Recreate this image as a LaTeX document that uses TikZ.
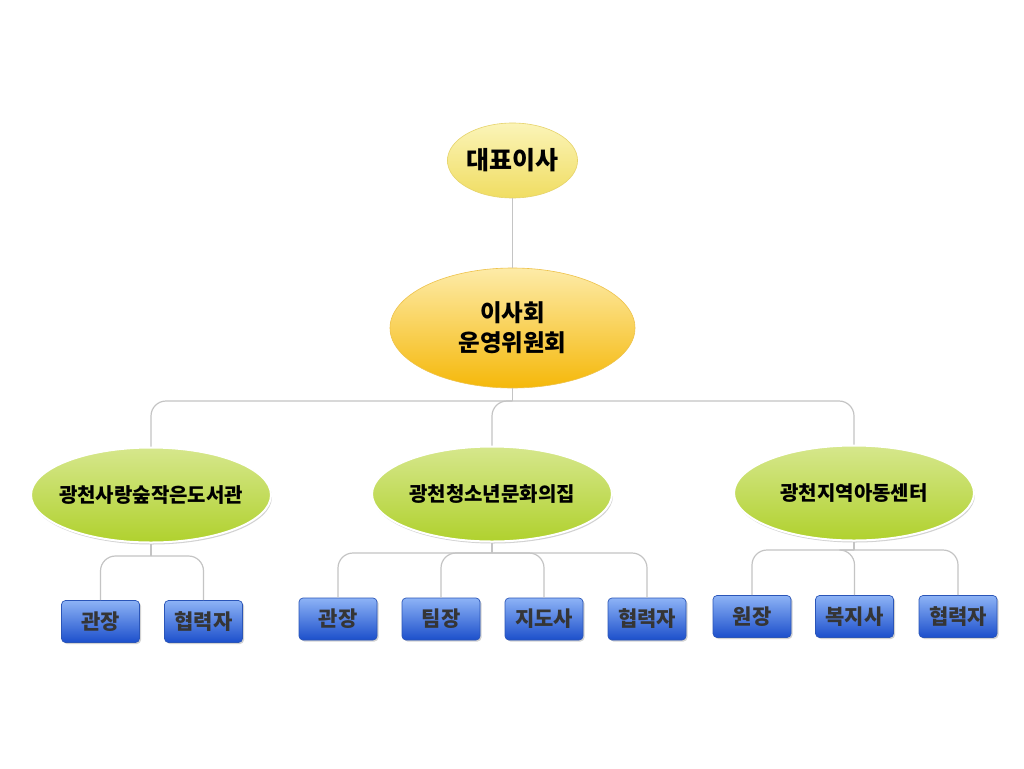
\documentclass[tikz,border=0pt]{standalone}
\usepackage{fontspec}
\newfontfamily\kr{Noto Sans CJK KR}
\usetikzlibrary{shapes.geometric,shadows}
\definecolor{conncol}{HTML}{C4C4C4}
\definecolor{ytop}{HTML}{FBF4B8}
\definecolor{ybot}{HTML}{F0DD62}
\definecolor{ybord}{HTML}{E6D36A}
\definecolor{otop}{HTML}{FDEBA8}
\definecolor{obot}{HTML}{F5B80A}
\definecolor{obord}{HTML}{EEC24A}
\definecolor{gtop}{HTML}{D6E78C}
\definecolor{gbot}{HTML}{B0D12E}
\definecolor{btop}{HTML}{8DB3F6}
\definecolor{bbot}{HTML}{1C4FCB}
\definecolor{bbord}{HTML}{2A55B8}
\definecolor{btext}{HTML}{353535}
\tikzset{
  conn/.style={draw=conncol, line width=1.2pt, rounded corners=15pt},
  topell/.style={ellipse, inner sep=0pt, minimum width=129pt, minimum height=75pt,
    top color=ytop, bottom color=ybot, draw=ybord, line width=0.6pt,
    font=\kr\bfseries\fontsize{25}{28}\selectfont},
  bigell/.style={ellipse, inner sep=0pt, minimum width=245pt, minimum height=120pt,
    top color=otop, bottom color=obot, draw=obord, line width=0.6pt, align=center,
    font=\kr\bfseries\fontsize{23.5}{30}\selectfont},
  grell/.style={ellipse, inner xsep=-30pt, inner ysep=0pt, minimum width=240pt, minimum height=95pt,
    top color=gtop, bottom color=gbot, draw=white, line width=2pt,
    drop shadow={shadow xshift=1pt, shadow yshift=-2pt, opacity=0.35},
    font=\kr\bfseries\fontsize{20}{24}\selectfont},
  bbox/.style={rectangle, rounded corners=4pt, inner sep=0pt, minimum width=78pt, minimum height=42pt,
    top color=btop, bottom color=bbot, draw=bbord, line width=0.7pt, text=btext,
    drop shadow={shadow xshift=1.5pt, shadow yshift=-1.5pt, opacity=0.35},
    font=\kr\bfseries\fontsize{21}{24}\selectfont},
}
\begin{document}
\begin{tikzpicture}[x=1pt,y=-1pt]
\useasboundingbox[fill=white] (0,0) rectangle (1024,768);

% junction coordinates
\coordinate (j0) at (512.5,401);
\coordinate (jl) at (151,556);
\coordinate (jm) at (492,553);
\coordinate (jr) at (854,550);

% top levels
\node[topell] (ceo) at (512.5,160.5) {대표이사};
\node[bigell] (board) at (512.5,328) {이사회\\운영위원회};

% second level
\node[grell] (lib) at (151,495) {광천사랑숲작은도서관};
\node[grell] (youth) at (492,494) {광천청소년문화의집};
\node[grell] (child) at (854,493) {광천지역아동센터};

% boxes
\node[bbox] (l1) at (100.5,621.5) {관장};
\node[bbox] (l2) at (203.5,621.5) {협력자};
\node[bbox] (m1) at (338,619) {관장};
\node[bbox] (m2) at (441,619) {팀장};
\node[bbox] (m3) at (544,619) {지도사};
\node[bbox] (m4) at (647,619) {협력자};
\node[bbox] (r1) at (752,616.5) {원장};
\node[bbox] (r2) at (854.5,616.5) {복지사};
\node[bbox] (r3) at (958,616.5) {협력자};

% connectors
\draw[conn] (ceo.south) -- (board.north);
\draw[conn] (board.south) -- (j0);
\draw[conn] (j0) -| (lib.north);
\draw[conn] (j0) -| (youth.north);
\draw[conn] (j0) -| (child.north);

\draw[conn] (lib.south) -- (jl);
\draw[conn] (jl) -| (l1.north);
\draw[conn] (jl) -| (l2.north);

\draw[conn] (youth.south) -- (jm);
\draw[conn] (jm) -| (m1.north);
\draw[conn] (jm) -| (m2.north);
\draw[conn] (jm) -| (m3.north);
\draw[conn] (jm) -| (m4.north);

\draw[conn] (child.south) -- (jr);
\draw[conn] (jr) -| (r1.north);
\draw[conn] (jr) -| (r2.north);
\draw[conn] (jr) -| (r3.north);
\end{tikzpicture}
\end{document}
